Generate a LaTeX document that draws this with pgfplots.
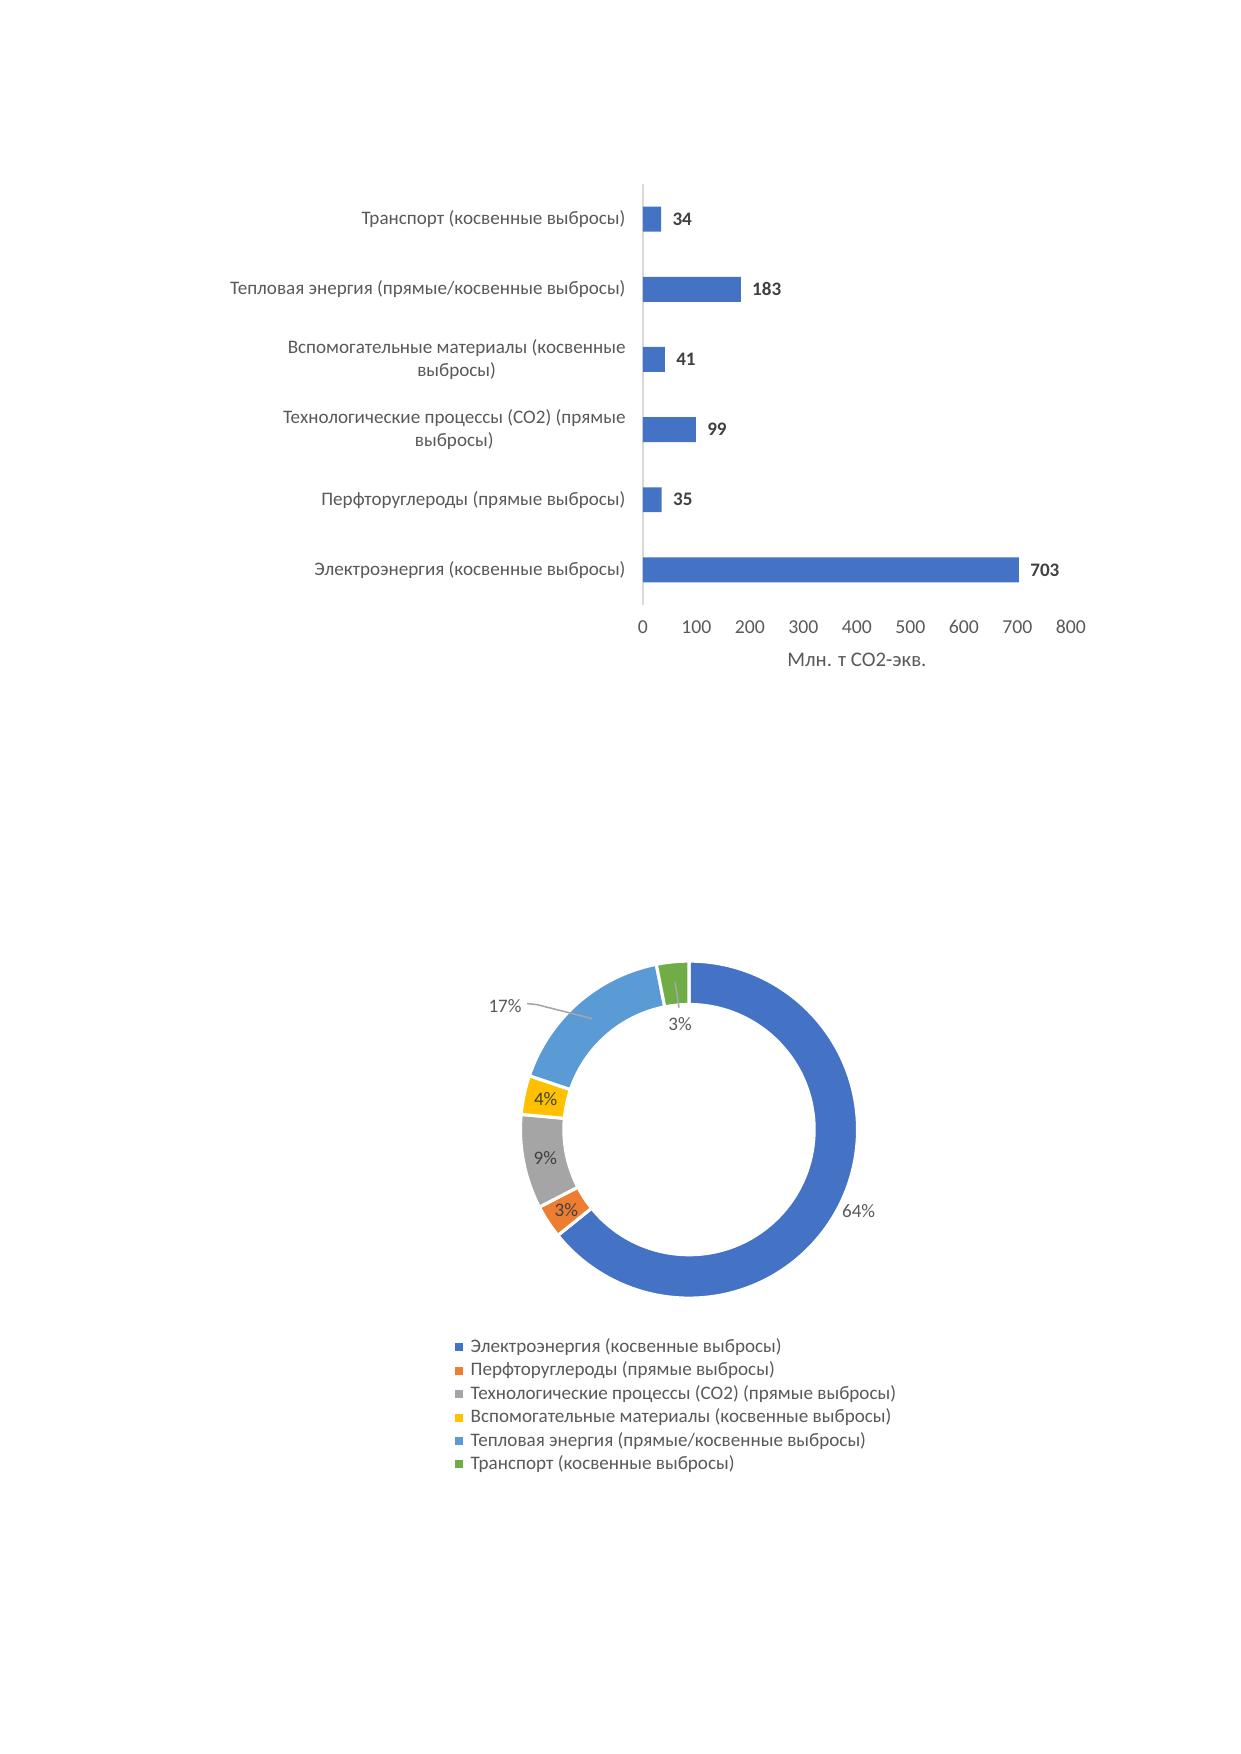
\documentclass[border=0pt]{standalone}
\usepackage{pgfplots}
\pgfplotsset{compat=1.18}
\usepackage{fontspec}
\setmainfont{Carlito}
\definecolor{cA}{HTML}{4472C4}
\definecolor{cB}{HTML}{ED7D31}
\definecolor{cC}{HTML}{A5A5A5}
\definecolor{cD}{HTML}{FFC000}
\definecolor{cE}{HTML}{5B9BD5}
\definecolor{cF}{HTML}{70AD47}
\definecolor{txt}{HTML}{595959}
\definecolor{dtxt}{HTML}{404040}
\definecolor{axl}{HTML}{D9D9D9}
\definecolor{lead}{HTML}{A6A6A6}
\newcommand{\fs}{\fontsize{9.2}{11.2}\selectfont}
\newcommand\slice[3]{\fill[#1, draw=white, line width=1.5pt, shift={(axis cs:0,0)}] (#2:81.2pt) arc[start angle=#2, end angle=#3, radius=81.2pt] -- (#3:60.3pt) arc[start angle=#3, end angle=#2, radius=60.3pt] -- cycle;}
\begin{document}
\begin{tikzpicture}
\path[use as bounding box] (0,0) rectangle (597.5pt,-845.17pt);
\begin{axis}[
  at={(309.8pt,-291.5pt)}, anchor=south west,
  scale only axis, width=206.2pt, height=202.8pt,
  xbar, bar width=12pt,
  xmin=0, xmax=800, ymin=-0.5, ymax=5.5,
  axis lines*=left, separate axis lines,
  axis line style={-},
  x axis line style={draw=none},
  y axis line style={axl, line width=0.75pt},
  major tick length=0pt,
  xtick={0,100,...,800}, ytick={0,...,5},
  yticklabels={Электроэнергия (косвенные выбросы), Перфторуглероды (прямые выбросы), {Технологические процессы (CO2) (прямые\\выбросы)}, {Вспомогательные материалы (косвенные\\выбросы)}, Тепловая энергия (прямые/косвенные выбросы), Транспорт (косвенные выбросы)},
  yticklabel style={align=center, anchor=east, inner sep=0pt, xshift=-8.2pt, font=\fs, text=txt},
  xticklabel style={anchor=center, yshift=-10.6pt, font=\fontsize{9.5}{11}\selectfont, text=txt, inner sep=0pt},
  /pgf/number format/assume math mode=true,
  xlabel={Млн. т CO2-экв.},
  xlabel style={at={(axis description cs:0.5,0)}, anchor=center, yshift=-26.5pt, font=\fontsize{10}{12}\selectfont, text=txt},
  point meta=x,
  nodes near coords,
  every node near coord/.append style={anchor=west, inner sep=0pt, xshift=5.3pt, font=\fs\bfseries, text=dtxt},
]
\addplot[fill=cA, draw=none] coordinates {(703,0) (35,1) (99,2) (41,3) (183,4) (34,5)};
\end{axis}
\pgfmathsetmacro\tot{703+35+99+41+183+34}
\pgfmathsetmacro\aA{90}
\pgfmathsetmacro\aB{\aA-360*(703/\tot)}
\pgfmathsetmacro\aC{\aB-360*(35/\tot)}
\pgfmathsetmacro\aD{\aC-360*(99/\tot)}
\pgfmathsetmacro\aE{\aD-360*(41/\tot)}
\pgfmathsetmacro\aF{\aE-360*(183/\tot)}
\pgfmathsetmacro\aG{\aF-360*(34/\tot)}
\pgfmathsetmacro\mA{(\aA+\aB)/2}
\pgfmathsetmacro\mB{(\aB+\aC)/2}
\pgfmathsetmacro\mC{(\aC+\aD)/2}
\pgfmathsetmacro\mD{(\aD+\aE)/2}
\begin{axis}[at={(332.0pt,-544.3pt)}, anchor=center, scale only axis,
  width=240.93pt, height=240.93pt, xmin=-250, xmax=250, ymin=-250, ymax=250,
  hide axis, clip=false,
  legend image code/.code={\fill[#1, draw=none] (0pt,-1.93pt) rectangle (3.86pt,1.93pt);},
  legend cell align=left,
  legend style={at={(axis cs:-241,-203.5)}, anchor=north west, draw=none, fill=none,
    font=\fs, text=txt, row sep=2.1pt,
    nodes={inner sep=0pt, text height=7pt, text depth=2.2pt},
    /tikz/every odd column/.append style={column sep=3.86pt}},
]
\slice{cA}{\aA}{\aB}
\slice{cB}{\aB}{\aC}
\slice{cC}{\aC}{\aD}
\slice{cD}{\aD}{\aE}
\slice{cE}{\aE}{\aF}
\slice{cF}{\aF}{\aG}
\node[font=\fs, text=txt] at (axis cs:{188*cos(\mA)},{188*sin(\mA)}) {64\%};
\node[font=\fs, text=dtxt] at (axis cs:{146.5*cos(\mB)},{146.5*sin(\mB)}) {3\%};
\node[font=\fs, text=dtxt] at (axis cs:{146.5*cos(\mC)},{146.5*sin(\mC)}) {9\%};
\node[font=\fs, text=dtxt] at (axis cs:{146.5*cos(\mD)},{146.5*sin(\mD)}) {4\%};
\draw[lead, line width=0.75pt] (axis cs:-162,126) -- (axis cs:-152,125) -- (axis cs:-97,111);
\node[font=\fs, text=txt] at (axis cs:-184,124) {17\%};
\draw[lead, line width=0.75pt] (axis cs:-14,148) -- (axis cs:-10,122);
\node[font=\fs, text=txt] at (axis cs:-9,106) {3\%};
\addlegendimage{fill=cA}\addlegendentry{Электроэнергия (косвенные выбросы)}
\addlegendimage{fill=cB}\addlegendentry{Перфторуглероды (прямые выбросы)}
\addlegendimage{fill=cC}\addlegendentry{Технологические процессы (CO2) (прямые выбросы)}
\addlegendimage{fill=cD}\addlegendentry{Вспомогательные материалы (косвенные выбросы)}
\addlegendimage{fill=cE}\addlegendentry{Тепловая энергия (прямые/косвенные выбросы)}
\addlegendimage{fill=cF}\addlegendentry{Транспорт (косвенные выбросы)}
\end{axis}
\end{tikzpicture}
\end{document}
